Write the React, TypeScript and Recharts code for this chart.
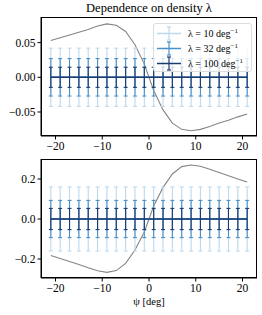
import { ComposedChart, Line, ErrorBar, XAxis, YAxis } from "recharts";

const psi = [-21, -19, -17, -15, -13, -11, -9, -7, -5, -3, -1, 1, 3, 5, 7, 9, 11, 13, 15, 17, 19, 21];

const refTop = [0.053, 0.057, 0.061, 0.065, 0.069, 0.074, 0.077, 0.075, 0.066, 0.047, 0.019, -0.019, -0.047, -0.066, -0.075, -0.077, -0.075, -0.071, -0.066, -0.062, -0.057, -0.053];
const refBottom = [-0.183, -0.198, -0.213, -0.228, -0.244, -0.259, -0.267, -0.258, -0.222, -0.155, -0.065, 0.065, 0.158, 0.225, 0.262, 0.27, 0.264, 0.249, 0.233, 0.216, 0.2, 0.185];

const lambdas = [10, 32, 100];
const errTop = [0.042, 0.027, 0.0145];
const errBottom = [0.16, 0.093, 0.053];
const colors = ["#bcd9ee", "#4a90c8", "#1a3b70"];

const xTicks = [-20, -10, 0, 10, 20];
const topTicks = [-0.05, 0, 0.05];
const bottomTicks = [-0.2, 0, 0.2];

const font = "'Liberation Serif', 'DejaVu Serif', serif";

const minus = (s: string) => s.replace("-", "\u2212");

const build = (ref: number[], err: number[]) =>
  psi.map((x, i) => ({
    psi: x,
    ref: ref[i],
    v0: 0,
    v1: 0,
    v2: 0,
    e0: err[0],
    e1: err[1],
    e2: err[2],
  }));

const topData = build(refTop, errTop);
const bottomData = build(refBottom, errBottom);

const tickStyle = { fontSize: 11.5, fill: "#000", fontFamily: font };

const Panel = ({
  data,
  yDomain,
  yTicks,
  yFmt,
  height,
  top,
  bottom,
}: {
  data: any[];
  yDomain: [number, number];
  yTicks: number[];
  yFmt: (v: number) => string;
  height: number;
  top: number;
  bottom: number;
}) => (
  <ComposedChart width={262} height={height} data={data} margin={{ top, right: 5, bottom: 0, left: 5 }}>
    <XAxis
      dataKey="psi"
      type="number"
      domain={[-23.1, 23.1]}
      ticks={xTicks}
      tickFormatter={(v) => minus(String(v))}
      tick={tickStyle}
      stroke="#000"
      tickSize={3.5}
      height={bottom}
    />
    <YAxis
      type="number"
      domain={yDomain}
      ticks={yTicks}
      tickFormatter={yFmt}
      tick={tickStyle}
      stroke="#000"
      tickSize={3.5}
      width={36}
      allowDataOverflow
    />
    <Line dataKey="ref" stroke="#858585" strokeWidth={1.1} dot={false} isAnimationActive={false} />
    {[0, 1, 2].map((k) => (
      <Line
        key={k}
        dataKey={`v${k}`}
        stroke={colors[k]}
        strokeWidth={1.5}
        dot={false}
        isAnimationActive={false}
      >
        <ErrorBar dataKey={`e${k}`} direction="y" width={2} stroke={colors[k]} strokeWidth={1.1} />
      </Line>
    ))}
  </ComposedChart>
);

const LegendEntry = ({ k }: { k: number }) => (
  <div style={{ display: "flex", alignItems: "center", height: 15 }}>
    <svg width={26} height={15}>
      <line x1={1} y1={7.5} x2={25} y2={7.5} stroke={colors[k]} strokeWidth={1.5} />
      <line x1={13} y1={1} x2={13} y2={14} stroke={colors[k]} strokeWidth={1.2} />
      <line x1={11} y1={1} x2={15} y2={1} stroke={colors[k]} strokeWidth={1.2} />
      <line x1={11} y1={14} x2={15} y2={14} stroke={colors[k]} strokeWidth={1.2} />
    </svg>
    <span style={{ marginLeft: 6, fontSize: 10, color: "#000" }}>
      {"\u03bb = " + lambdas[k] + " deg"}
      <sup style={{ fontSize: 7 }}>{"\u22121"}</sup>
    </span>
  </div>
);

const frame = (top: number) => ({
  position: "absolute" as const,
  left: 41,
  top,
  width: 216,
  height: 119,
  boxSizing: "border-box" as const,
  border: "1px solid #000",
  pointerEvents: "none" as const,
});

export default function App() {
  return (
    <div style={{ position: "absolute", left: 0, top: 0, width: 262, height: 315, background: "#fff", fontFamily: font, color: "#000" }}>
      <div style={{ position: "absolute", left: 41, width: 216, top: 1, textAlign: "center", fontSize: 12.5 }}>
        {"Dependence on density \u03bb"}
      </div>
      <div style={{ position: "absolute", left: 0, top: 0 }}>
        <Panel
          data={topData}
          yDomain={[-0.0846, 0.0869]}
          yTicks={topTicks}
          yFmt={(v) => minus(v.toFixed(2))}
          height={155}
          top={17}
          bottom={19}
        />
      </div>
      <div style={{ position: "absolute", left: 0, top: 150 }}>
        <Panel
          data={bottomData}
          yDomain={[-0.295, 0.3]}
          yTicks={bottomTicks}
          yFmt={(v) => minus(v.toFixed(1))}
          height={165}
          top={9}
          bottom={37}
        />
      </div>
      <div style={frame(17)} />
      <div style={frame(159)} />
      <div style={{ position: "absolute", left: 41, width: 216, top: 296, textAlign: "center", fontSize: 10.5, color: "#000" }}>
        {"\u03c8 [deg]"}
      </div>
      <div
        style={{
          position: "absolute",
          left: 153,
          top: 23,
          width: 99,
          height: 49,
          boxSizing: "border-box",
          border: "1px solid #ddd",
          borderRadius: 3,
          background: "rgba(255,255,255,0.8)",
          padding: "2px 0 0 2px",
        }}
      >
        <LegendEntry k={0} />
        <LegendEntry k={1} />
        <LegendEntry k={2} />
      </div>
    </div>
  );
}
